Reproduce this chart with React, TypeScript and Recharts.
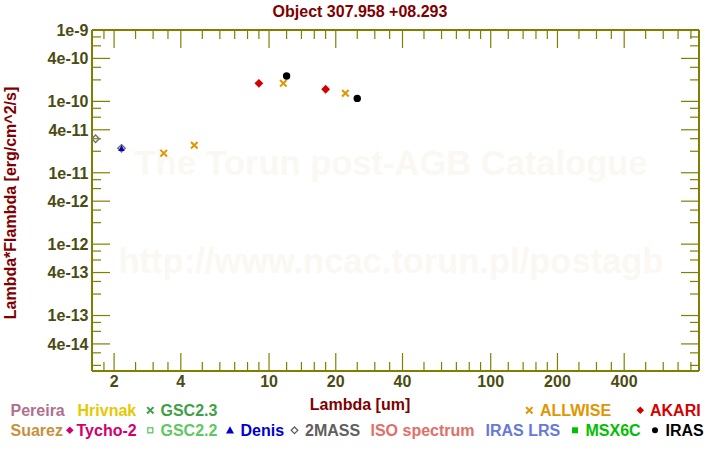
import { Scatter, ScatterChart, XAxis, YAxis } from 'recharts';

const FONT = '"Liberation Sans", Arial, Helvetica, sans-serif';
const AXIS = '#808000';
const TICK_TEXT = '#4b4b12';
const DARK_RED = '#800000';

// photometry: wavelength [um] and lambda*F_lambda [erg/cm^2/s]
const twoMassWave = [1.65, 2.16];
const twoMassFlux = [3.0e-11, 2.2e-11];
const denisWave = [2.16];
const denisFlux = [2.2e-11];
const allwiseWave = [3.35, 4.6, 11.6, 22.1];
const allwiseFlux = [1.88e-11, 2.43e-11, 1.79e-10, 1.3e-10];
const akariWave = [9, 18];
const akariFlux = [1.79e-10, 1.48e-10];
const irasWave = [12, 25];
const irasFlux = [2.27e-10, 1.1e-10];

// axes
const xDomain = [1.59, 870];
const yDomain = [1.67e-14, 1e-9];
const xMajorTicks = [2, 4, 10, 20, 40, 100, 200, 400];
const xTickLabels = ['2', '4', '10', '20', '40', '100', '200', '400'];
const xMinorTicks = [
  1.8, 2.5, 3, 3.5, 5, 6, 7, 8, 9, 12, 14, 16, 18, 25, 30, 35, 50, 60, 70, 80, 90,
  120, 140, 160, 180, 250, 300, 350, 500, 600, 700, 800,
];
const yMajorTicks = [1e-9, 4e-10, 1e-10, 4e-11, 1e-11, 4e-12, 1e-12, 4e-13, 1e-13, 4e-14];
const yTickLabels = ['1e-9', '4e-10', '1e-10', '4e-11', '1e-11', '4e-12', '1e-12', '4e-13', '1e-13', '4e-14'];
const yMinorTicks = [
  8e-10, 6e-10, 3e-10, 2e-10, 8e-11, 6e-11, 3e-11, 2e-11, 8e-12, 6e-12, 3e-12, 2e-12,
  8e-13, 6e-13, 3e-13, 2e-13, 8e-14, 6e-14, 3e-14, 2e-14,
];

const title = 'Object 307.958 +08.293';
const xLabel = 'Lambda [um]';
const yLabel = 'Lambda*Flambda [erg/cm^2/s]';
const watermark1 = 'The Torun post-AGB Catalogue';
const watermark2 = 'http://www.ncac.torun.pl/postagb';

const pts = (w: number[], f: number[]) => w.map((x, i) => ({ x, y: f[i] }));

// marker shapes
function Diamond({ cx, cy, r, fill, stroke, sw = 1 }: any) {
  return (
    <path
      d={`M${cx},${cy - r}L${cx + r},${cy}L${cx},${cy + r}L${cx - r},${cy}Z`}
      fill={fill}
      stroke={stroke}
      strokeWidth={sw}
    />
  );
}
function Cross({ cx, cy, r, color }: any) {
  return (
    <path
      d={`M${cx - r},${cy - r}L${cx + r},${cy + r}M${cx - r},${cy + r}L${cx + r},${cy - r}`}
      stroke={color}
      strokeWidth={2}
      fill="none"
    />
  );
}
function Triangle({ cx, cy, r, color }: any) {
  return <path d={`M${cx},${cy - r}L${cx + r},${cy + r * 0.8}L${cx - r},${cy + r * 0.8}Z`} fill={color} />;
}

function XTick({ x, y, payload, top }: any) {
  const i = xMajorTicks.indexOf(payload.value);
  const len = i >= 0 ? 18 : 9;
  const dir = top ? 1 : -1;
  return (
    <g>
      <line x1={x} x2={x} y1={y} y2={y + dir * len} stroke={AXIS} strokeWidth={1.2} />
      {!top && i >= 0 && (
        <text x={x} y={y + 16} textAnchor="middle" fill={TICK_TEXT} fontFamily={FONT} fontWeight="bold" fontSize={16}>
          {xTickLabels[i]}
        </text>
      )}
    </g>
  );
}

function YTick({ x, y, payload, right }: any) {
  const i = yMajorTicks.indexOf(payload.value);
  const len = i >= 0 ? 18 : 9;
  const dir = right ? -1 : 1;
  return (
    <g>
      <line x1={x} x2={x + dir * len} y1={y} y2={y} stroke={AXIS} strokeWidth={1.2} />
      {!right && i >= 0 && (
        <text x={x - 3.5} y={y + 5.8} textAnchor="end" fill={TICK_TEXT} fontFamily={FONT} fontWeight="bold" fontSize={16}>
          {yTickLabels[i]}
        </text>
      )}
    </g>
  );
}

function LegendSymbol({ kind, cx, cy, color }: any) {
  if (kind === 'cross') return <Cross cx={cx} cy={cy} r={3.2} color={color} />;
  if (kind === 'diamond') return <Diamond cx={cx} cy={cy} r={3.8} fill={color} />;
  if (kind === 'odiamond') return <Diamond cx={cx} cy={cy} r={3.3} fill="none" stroke={color} sw={1.3} />;
  if (kind === 'osquare') return <rect x={cx - 2.5} y={cy - 2.5} width={5} height={5} fill="none" stroke={color} strokeWidth={1.3} />;
  if (kind === 'square') return <rect x={cx - 3} y={cy - 3} width={6} height={6} fill={color} />;
  if (kind === 'triangle') return <Triangle cx={cx} cy={cy} r={4} color={color} />;
  if (kind === 'dot') return <circle cx={cx} cy={cy} r={3} fill={color} />;
  return null;
}

const legendItems = [
  { label: 'Pereira', color: '#b0708f', row: 0, tx: 10.5 },
  { label: 'Hrivnak', color: '#e6c800', row: 0, tx: 77.5 },
  { label: 'GSC2.3', color: '#40a048', row: 0, tx: 160.5, kind: 'cross', sx: 150.3 },
  { label: 'ALLWISE', color: '#e09600', row: 0, tx: 540, kind: 'cross', sx: 529.3 },
  { label: 'AKARI', color: '#d40000', row: 0, tx: 650, kind: 'diamond', sx: 640.3 },
  { label: 'Suarez', color: '#c8903c', row: 1, tx: 10.5 },
  { label: 'Tycho-2', color: '#d0006e', row: 1, tx: 76.5, kind: 'diamond', sx: 69.8 },
  { label: 'GSC2.2', color: '#60c860', row: 1, tx: 160.5, kind: 'osquare', sx: 150.3 },
  { label: 'Denis', color: '#0000d0', row: 1, tx: 240.5, kind: 'triangle', sx: 230 },
  { label: '2MASS', color: '#606060', row: 1, tx: 305, kind: 'odiamond', sx: 294.5 },
  { label: 'ISO spectrum', color: '#e07068', row: 1, tx: 370.5 },
  { label: 'IRAS LRS', color: '#6678d8', row: 1, tx: 485.5 },
  { label: 'MSX6C', color: '#00c000', row: 1, tx: 585.5, kind: 'square', sx: 575 },
  { label: 'IRAS', color: '#000000', row: 1, tx: 665.5, kind: 'dot', sx: 655 },
];

const axisCommon = {
  type: 'number' as const,
  scale: 'log' as const,
  allowDataOverflow: true,
  interval: 0,
  tickSize: 0,
  tickMargin: 0,
  tickLine: false,
  axisLine: { stroke: AXIS, strokeWidth: 2 },
};

export default function App() {
  const layer = { position: 'absolute' as const, left: 0, top: 0 };
  return (
    <div style={{ position: 'fixed', left: 0, top: 0, width: 720, height: 450, background: '#fff' }}>
      <svg width={720} height={450} style={layer}>
        <g fontFamily={FONT} fontWeight="bold" fontSize={34.5} fill="#fbf8f3" textAnchor="middle">
          <text x={391} y={175}>{watermark1}</text>
          <text x={391} y={273}>{watermark2}</text>
        </g>
      </svg>
      <div style={layer}>
        <ScatterChart width={720} height={450} margin={{ top: 29, right: 20, bottom: 78, left: 91 }}>
          <XAxis
            {...axisCommon}
            xAxisId="b"
            dataKey="x"
            domain={xDomain}
            ticks={[...xMajorTicks, ...xMinorTicks]}
            height={1}
            tick={(p: any) => <XTick {...p} />}
          />
          <XAxis
            {...axisCommon}
            xAxisId="t"
            orientation="top"
            dataKey="x"
            domain={xDomain}
            ticks={[...xMajorTicks, ...xMinorTicks]}
            height={1}
            tick={(p: any) => <XTick {...p} top />}
          />
          <YAxis
            {...axisCommon}
            yAxisId="l"
            dataKey="y"
            domain={yDomain}
            ticks={[...yMajorTicks, ...yMinorTicks]}
            width={1}
            tick={(p: any) => <YTick {...p} />}
          />
          <YAxis
            {...axisCommon}
            yAxisId="r"
            orientation="right"
            dataKey="y"
            domain={yDomain}
            ticks={[...yMajorTicks, ...yMinorTicks]}
            width={1}
            tick={(p: any) => <YTick {...p} right />}
          />
          <Scatter
            xAxisId="b"
            yAxisId="l"
            data={pts(twoMassWave, twoMassFlux)}
            isAnimationActive={false}
            shape={(p: any) => <Diamond cx={p.cx} cy={p.cy} r={3.7} fill="#fff" stroke="#707070" sw={1.4} />}
          />
          <Scatter
            xAxisId="b"
            yAxisId="l"
            data={pts(denisWave, denisFlux)}
            isAnimationActive={false}
            shape={(p: any) => <Triangle cx={p.cx} cy={p.cy} r={3.2} color="#0000c8" />}
          />
          <Scatter
            xAxisId="b"
            yAxisId="l"
            data={pts(allwiseWave, allwiseFlux)}
            isAnimationActive={false}
            shape={(p: any) => <Cross cx={p.cx} cy={p.cy} r={3.3} color="#e09600" />}
          />
          <Scatter
            xAxisId="b"
            yAxisId="l"
            data={pts(akariWave, akariFlux)}
            isAnimationActive={false}
            shape={(p: any) => <Diamond cx={p.cx} cy={p.cy} r={4.4} fill="#d40000" />}
          />
          <Scatter
            xAxisId="b"
            yAxisId="l"
            data={pts(irasWave, irasFlux)}
            isAnimationActive={false}
            shape={(p: any) => <circle cx={p.cx} cy={p.cy} r={3.7} fill="#000" />}
          />
        </ScatterChart>
      </div>
      <svg width={720} height={450} style={{ ...layer, pointerEvents: 'none' }}>
        <g fontFamily={FONT} fontWeight="bold" fontSize={16}>
          <text x={360} y={17} textAnchor="middle" fill={DARK_RED}>{title}</text>
          <text x={360} y={409.5} textAnchor="middle" fill={DARK_RED}>{xLabel}</text>
          <text x={15.5} y={203} textAnchor="middle" fill={DARK_RED} transform="rotate(-90 15.5 203)">{yLabel}</text>
          {legendItems.map((it) => {
            const base = it.row === 0 ? 416 : 436;
            return (
              <g key={it.label}>
                {it.kind && <LegendSymbol kind={it.kind} cx={it.sx} cy={base - 5.7} color={it.color} />}
                <text x={it.tx} y={base} fill={it.color}>{it.label}</text>
              </g>
            );
          })}
        </g>
      </svg>
    </div>
  );
}
